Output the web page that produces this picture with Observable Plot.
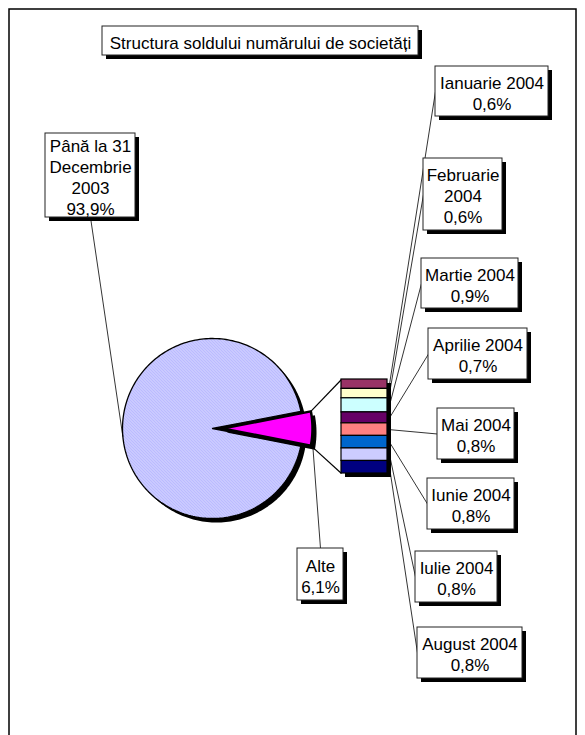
<!DOCTYPE html>
<html><head><meta charset="utf-8">
<script src="https://cdn.jsdelivr.net/npm/d3@7"></script>
<script src="https://cdn.jsdelivr.net/npm/@observablehq/plot@0.6"></script>
<style>body{margin:0;background:#fff}</style>
</head><body><div id="chart"></div>
<script>
// ---------- DATA ----------
const titleText = "Structura soldului numărului de societăți";
const pieLabels = ["Până la 31 Decembrie 2003", "Alte"];
const pieValues = [93.9, 6.1];
const barLabels = ["Ianuarie 2004","Februarie 2004","Martie 2004","Aprilie 2004","Mai 2004","Iunie 2004","Iulie 2004","August 2004"];
const barValues = [0.6, 0.6, 0.9, 0.7, 0.8, 0.8, 0.8, 0.8];

// ---------- STYLE / LAYOUT ----------
const pieColors = ["#cbcbfe", "#FF00FF"];
const barColors = ["#993366","#FFFFCC","#CCFFFF","#660066","#FF8080","#0066CC","#CCCCFF","#000080"];
const W = 585, H = 735;
const FONT = "Liberation Sans, Arial, Helvetica, sans-serif";
const FS = 17, LH = 21, SH = 4;
const frameBox = {x1: 9, y1: 9, x2: 576, y2: 760};
const titleBox = {x: 102, y: 26, w: 316, h: 29};
const pie = {cx: 212, cy: 428, r: 90, explode: 10};
const bar = {x1: 341, x2: 387, y1: 379, y2: 473};
const pieBoxes = [
  {x: 45, y: 133, w: 90, h: 84, wrap: 10},
  {x: 297, y: 548, w: 46, h: 52, wrap: 5}
];
const barBoxes = [
  {x: 435, y: 66, w: 113, h: 50, wrap: 14},
  {x: 423, y: 158, w: 79, h: 72, wrap: 10},
  {x: 421, y: 258, w: 97, h: 50, wrap: 14},
  {x: 428, y: 328, w: 99, h: 51, wrap: 14},
  {x: 437, y: 408, w: 77, h: 51, wrap: 14},
  {x: 427, y: 478, w: 87, h: 51, wrap: 14},
  {x: 415, y: 551, w: 82, h: 51, wrap: 14},
  {x: 417, y: 627, w: 105, h: 51, wrap: 14}
];

// ---------- HELPERS ----------
const fmt = v => v.toFixed(1).replace(".", ",") + "%";
function wrap(text, max) {
  const words = text.split(" "), lines = [];
  let cur = "";
  for (const w of words) {
    if (!cur) cur = w;
    else if ((cur + " " + w).length <= max) cur += " " + w;
    else { lines.push(cur); cur = w; }
  }
  if (cur) lines.push(cur);
  return lines;
}
function arcPoints(cx, cy, r, a0, a1, withCenter, n = 240) {
  const pts = [];
  if (withCenter) pts.push({x: cx, y: cy});
  for (let i = 0; i <= n; i++) {
    const a = a0 + (a1 - a0) * i / n;
    pts.push({x: cx + r * Math.cos(a), y: cy - r * Math.sin(a)});
  }
  return pts;
}

// ---------- GEOMETRY FROM DATA ----------
const pieTotal = d3.sum(pieValues);
const otherAngle = pieValues[1] / pieTotal * 2 * Math.PI;
const half = otherAngle / 2;
const bigSlice = arcPoints(pie.cx, pie.cy, pie.r, half, 2 * Math.PI - half, true);
const shadowCircle = arcPoints(pie.cx + SH, pie.cy + SH, pie.r, 0, 2 * Math.PI, false);
const ecx = pie.cx + pie.explode;
const otherSlice = arcPoints(ecx, pie.cy, pie.r, -half, half, true, 60);
const otherShadow = arcPoints(ecx + SH, pie.cy + SH, pie.r, -half, half, true, 60);
const cornerUp = {x: ecx + pie.r * Math.cos(half), y: pie.cy - pie.r * Math.sin(half)};
const cornerDn = {x: ecx + pie.r * Math.cos(half), y: pie.cy + pie.r * Math.sin(half)};

const barTotal = d3.sum(barValues);
const k = (bar.y2 - bar.y1) / barTotal;
const cum = d3.cumsum(barValues);
const segments = barValues.map((v, i) => ({
  label: barLabels[i], value: v, color: barColors[i],
  y1: bar.y1 + (cum[i] - v) * k, y2: bar.y1 + cum[i] * k
}));

// labels
const allBoxes = [];
pieLabels.forEach((l, i) => {
  const b = pieBoxes[i];
  allBoxes.push({...b, text: [...wrap(l, b.wrap), fmt(pieValues[i])].join("\n")});
});
barLabels.forEach((l, i) => {
  const b = barBoxes[i];
  allBoxes.push({...b, text: [...wrap(l, b.wrap), fmt(barValues[i])].join("\n")});
});
allBoxes.push({...titleBox, text: titleText});

// leader lines
const leaders = [];
const bigMid = Math.PI + 0.09;
leaders.push({x1: pie.cx + pie.r * Math.cos(bigMid), y1: pie.cy - pie.r * Math.sin(bigMid),
  x2: pieBoxes[0].x + pieBoxes[0].w / 2, y2: pieBoxes[0].y + pieBoxes[0].h});
leaders.push({x1: cornerDn.x + 2, y1: cornerDn.y + 1, x2: pieBoxes[1].x + pieBoxes[1].w / 2, y2: pieBoxes[1].y});
segments.forEach((s, i) => {
  const b = barBoxes[i];
  leaders.push({x1: bar.x2 + 2, y1: (s.y1 + s.y2) / 2, x2: b.x, y2: b.y + b.h / 2});
});
const connectors = [
  {x1: cornerUp.x, y1: cornerUp.y, x2: bar.x1, y2: bar.y1},
  {x1: cornerDn.x, y1: cornerDn.y, x2: bar.x1, y2: bar.y2}
];

// ---------- PLOT ----------
const chart = Plot.plot({
  width: W, height: H, margin: 0,
  x: {domain: [0, W], range: [0, W], axis: null},
  y: {domain: [0, H], range: [0, H], axis: null},
  style: {fontFamily: FONT, fontSize: FS + "px", background: "white", overflow: "hidden"},
  marks: [
    Plot.rect([frameBox], {x1: "x1", x2: "x2", y1: "y1", y2: "y2", fill: "none", stroke: "black", strokeWidth: 1.5}),
    // pie
    Plot.line(shadowCircle, {x: "x", y: "y", curve: "linear-closed", fill: "black", stroke: "none"}),
    Plot.line(bigSlice, {x: "x", y: "y", curve: "linear-closed", fill: pieColors[0], stroke: "black", strokeWidth: 1.3}),
    Plot.line(otherShadow, {x: "x", y: "y", curve: "linear-closed", fill: "black", stroke: "none"}),
    Plot.line(otherSlice, {x: "x", y: "y", curve: "linear-closed", fill: pieColors[1], stroke: "black", strokeWidth: 2.5, strokeLinejoin: "round"}),
    // connectors
    Plot.link(connectors, {x1: "x1", y1: "y1", x2: "x2", y2: "y2", stroke: "black", strokeWidth: 1.2}),
    // bar
    Plot.rect([bar], {x1: d => d.x1 + SH, x2: d => d.x2 + SH, y1: d => d.y1 + SH, y2: d => d.y2 + SH, fill: "black"}),
    Plot.rect(segments, {x1: bar.x1, x2: bar.x2, y1: "y1", y2: "y2", fill: "color", stroke: "black", strokeWidth: 1.2}),
    // leaders
    Plot.link(leaders, {x1: "x1", y1: "y1", x2: "x2", y2: "y2", stroke: "black", strokeWidth: 0.8}),
    // label boxes
    Plot.rect(allBoxes, {x1: d => d.x + SH, x2: d => d.x + d.w + SH, y1: d => d.y + SH, y2: d => d.y + d.h + SH, fill: "black"}),
    Plot.rect(allBoxes, {x1: "x", x2: d => d.x + d.w, y1: "y", y2: d => d.y + d.h, fill: "white", stroke: "#222", strokeWidth: 1}),
    Plot.text(allBoxes, {x: d => d.x + d.w / 2, y: d => d.y + d.h / 2 + 1, text: "text", lineAnchor: "middle", textAnchor: "middle",
      lineHeight: LH / FS, fontSize: FS, fontFamily: FONT, fill: "black"})
  ]
});
document.getElementById("chart").appendChild(chart);
// hatch pattern for the large slice (with solid fallback)
const NS = "http://www.w3.org/2000/svg";
const defs = document.createElementNS(NS, "defs");
const pat = document.createElementNS(NS, "pattern");
pat.setAttribute("id", "hatchPie");
pat.setAttribute("patternUnits", "userSpaceOnUse");
pat.setAttribute("width", "3"); pat.setAttribute("height", "3");
const bg = document.createElementNS(NS, "rect");
bg.setAttribute("width", "3"); bg.setAttribute("height", "3"); bg.setAttribute("fill", "#f2f2ff");
const ln = document.createElementNS(NS, "path");
ln.setAttribute("d", "M-1,-1 L4,4 M-1,2 L1,4 M2,-1 L4,1");
ln.setAttribute("stroke", "#9999ff"); ln.setAttribute("stroke-width", "1.1"); ln.setAttribute("fill", "none");
pat.appendChild(bg); pat.appendChild(ln); defs.appendChild(pat);
chart.insertBefore(defs, chart.firstChild);
chart.querySelectorAll('[fill="#cbcbfe"]').forEach(el => el.setAttribute("fill", "url(#hatchPie) #ccccff"));
</script></body></html>
